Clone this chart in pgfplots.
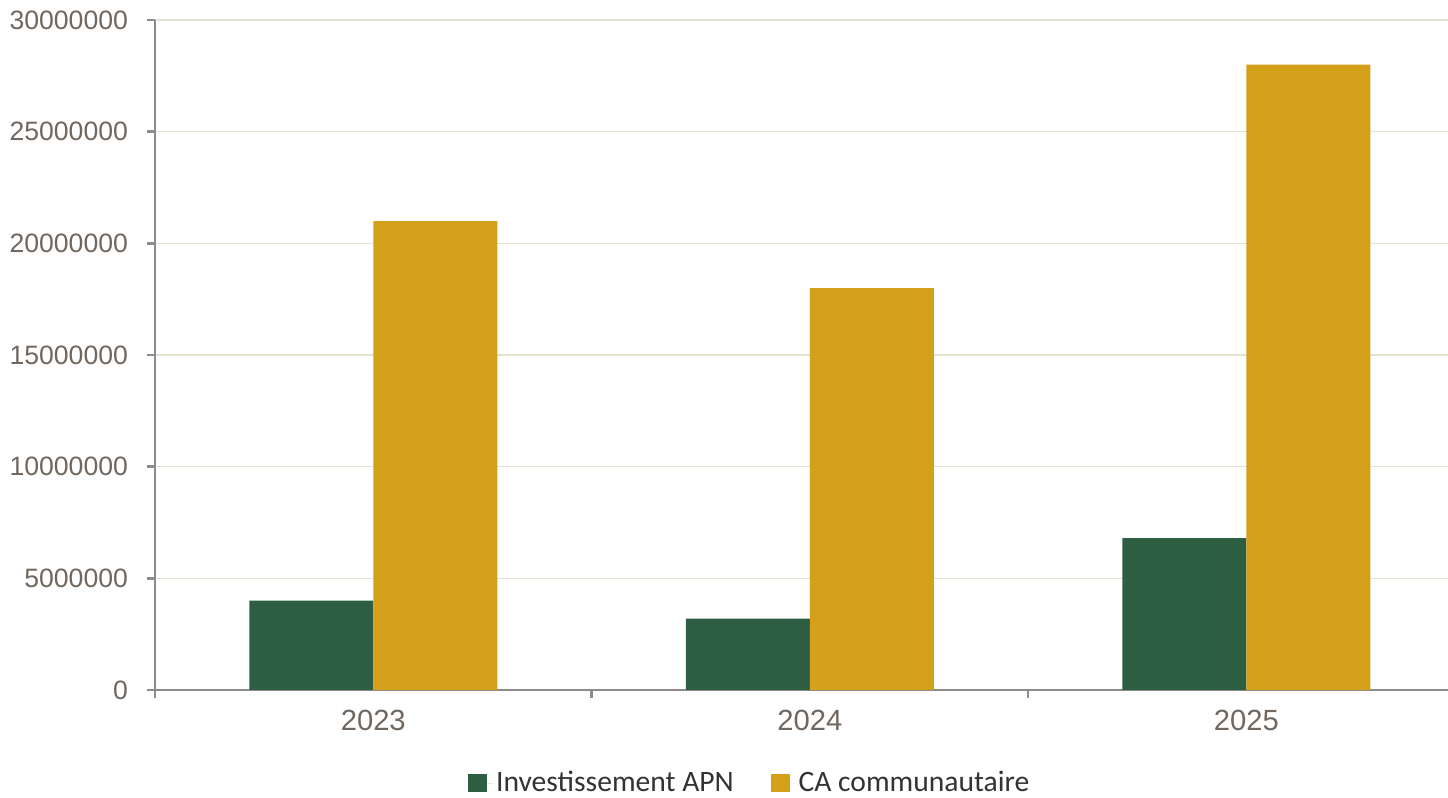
\documentclass[border=0pt]{standalone}
\usepackage{fontspec}
\setmainfont{Liberation Sans}
\newfontfamily\legfont{Carlito}
\usepackage{pgfplots}
\pgfplotsset{compat=1.18}
\definecolor{cgreen}{RGB}{46,94,66}
\definecolor{cgold}{RGB}{212,160,26}
\definecolor{ctick}{RGB}{112,104,96}
\definecolor{caxis}{RGB}{140,140,140}
\definecolor{cgrid}{RGB}{230,226,210}
\definecolor{clegtext}{RGB}{51,51,51}
\begin{document}
\begin{tikzpicture}
\begin{axis}[
  width=646.5pt, height=335pt, scale only axis,
  xmin=-0.5, xmax=2.462,
  ymin=0, ymax=30000000,
  ybar=0pt, bar width=62pt,
  xtick={-0.5,0.5,1.5}, xticklabels={},
  extra x ticks={0,1,2},
  extra x tick labels={2023,2024,2025},
  extra x tick style={major tick length=0pt, tick style={draw=none}},
  xtick style={caxis, line width=1.2pt},
  ytick={0,5000000,10000000,15000000,20000000,25000000,30000000},
  scaled y ticks=false,
  yticklabel={\pgfmathprintnumber[fixed,precision=0,1000 sep={}]{\tick}},
  /pgf/number format/assume math mode=true,
  tick align=outside,
  major tick length=4pt,
  ytick style={caxis, line width=1.2pt},
  axis x line*=bottom, axis y line*=left,
  axis line style={caxis, line width=1.2pt, -},
  ymajorgrids, grid style={cgrid, line width=0.6pt},
  yticklabel style={font=\fontsize{13.3}{16}\selectfont, text=ctick, xshift=-6pt},
  xticklabel style={font=\fontsize{14.6}{17}\selectfont, text=ctick, yshift=-6.5pt},
  legend style={draw=none, at={(rel axis cs:0.4604,0)}, anchor=center, yshift=-46.5pt,
    font=\legfont\fontsize{14.8}{18}\selectfont, text=clegtext,
    legend columns=2, /tikz/every even column/.style={column sep=17pt},
    inner sep=0pt, nodes={inner sep=1.5pt}},
  clip=false,
]
\addplot[fill=cgreen, draw=none, legend image code/.code={\fill[cgreen] (-1pt,-4.7pt) rectangle (8.4pt,4.7pt); \path (-1pt,0) -- (11.4pt,0);}]
  coordinates {(0,4000000) (1,3200000) (2,6800000)};
\addlegendentry{Investissement APN}
\addplot[fill=cgold, draw=none, legend image code/.code={\fill[cgold] (-1pt,-4.7pt) rectangle (8.4pt,4.7pt); \path (-1pt,0) -- (11.4pt,0);}]
  coordinates {(0,21000000) (1,18000000) (2,28000000)};
\addlegendentry{CA communautaire}
\coordinate (ll) at (rel axis cs:0,0);
\coordinate (ur) at (rel axis cs:1,1);
\end{axis}
\pgfresetboundingbox
\path[use as bounding box] ([shift={(-77.5pt,-54pt)}]ll) rectangle ([shift={(0pt,10pt)}]ur);
\end{tikzpicture}
\end{document}
